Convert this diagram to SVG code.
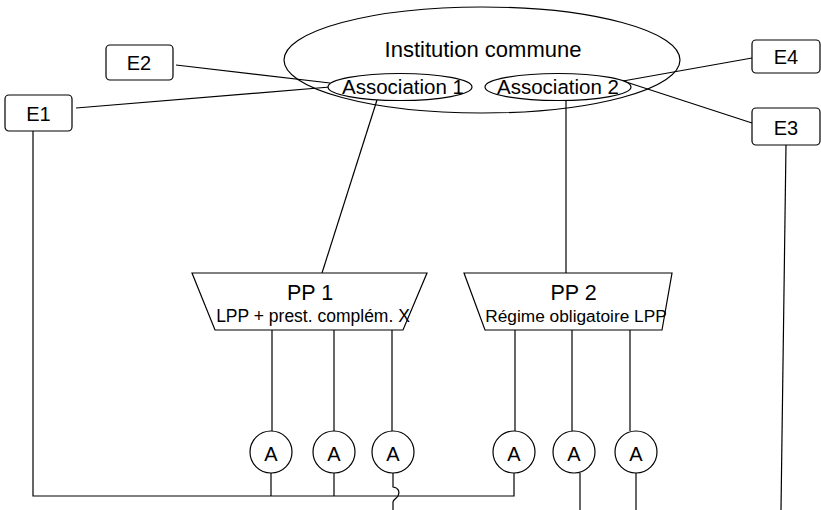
<svg xmlns="http://www.w3.org/2000/svg" width="821" height="510" viewBox="0 0 821 510">
<style>
.s{fill:none;stroke:#000;stroke-width:1.2}
.b{fill:#fff;stroke:#000;stroke-width:1.2}
text{font-family:"Liberation Sans",Arial,sans-serif;fill:#000;text-anchor:middle}
.t20{font-size:20px}
.t19{font-size:20.5px}
.t17{font-size:17.3px}
</style>
<rect width="821" height="510" fill="#fff"/>
<g id="institution">
<ellipse class="b" cx="482" cy="60" rx="198" ry="53"/>
<text x="483" y="57" style="font-size:22px">Institution commune</text>
</g>
<g id="connectors">
<line class="s" x1="176" y1="65" x2="330" y2="83"/>
<line class="s" x1="76" y1="108" x2="330" y2="87"/>
<line class="s" x1="752" y1="58" x2="623" y2="81"/>
<line class="s" x1="752" y1="123" x2="623" y2="81"/>
<line class="s" x1="377" y1="100" x2="322" y2="273"/>
<line class="s" x1="566" y1="100" x2="566" y2="273"/>
<polyline class="s" points="33,131 33,496 514,496 514,473"/>
<line class="s" x1="786" y1="145" x2="781" y2="510"/>
<line class="s" x1="272" y1="330" x2="272" y2="431"/>
<line class="s" x1="334" y1="330" x2="334" y2="431"/>
<line class="s" x1="392" y1="330" x2="392" y2="431"/>
<line class="s" x1="515" y1="330" x2="515" y2="431"/>
<line class="s" x1="572" y1="330" x2="572" y2="431"/>
<line class="s" x1="630" y1="330" x2="630" y2="431"/>
<line class="s" x1="271" y1="473" x2="271" y2="496"/>
<line class="s" x1="334" y1="473" x2="334" y2="496"/>
<path class="s" d="M393,473 V487 C399,488 400,492 398,496 C396,499 393,500 393,502 V510"/>
<line class="s" x1="580" y1="473" x2="580" y2="510"/>
<line class="s" x1="636" y1="473" x2="636" y2="510"/>
</g>
<g id="assoc1">
<ellipse class="b" cx="400" cy="87" rx="72" ry="13.5"/>
<text class="t19" x="403" y="94">Association 1</text>
</g>
<g id="assoc2">
<ellipse class="b" cx="558" cy="87" rx="73" ry="13.5"/>
<text class="t19" x="558" y="94">Association 2</text>
</g>
<g id="E2">
<rect class="b" x="106" y="45" width="67" height="35" rx="4"/>
<text class="t20" x="139" y="70">E2</text>
</g>
<g id="E1">
<rect class="b" x="5" y="95" width="67" height="36" rx="4"/>
<text class="t20" x="38.5" y="121">E1</text>
</g>
<g id="E4">
<rect class="b" x="752" y="40" width="68" height="33" rx="4"/>
<text class="t20" x="786" y="64">E4</text>
</g>
<g id="E3">
<rect class="b" x="752" y="108" width="68" height="37" rx="4"/>
<text class="t20" x="786" y="135">E3</text>
</g>
<g id="PP1">
<polygon class="b" points="192,273 427,273 403,330 215,330"/>
<text x="310" y="300" style="font-size:21.5px">PP 1</text>
<text class="t17" x="313" y="322" style="font-size:17.5px">LPP + prest. complém. X</text>
</g>
<g id="PP2">
<polygon class="b" points="464,273 672,273 662,330 485,330"/>
<text x="573.5" y="300" style="font-size:21.5px">PP 2</text>
<text class="t17" x="576" y="322">Régime obligatoire LPP</text>
</g>
<g id="A1"><circle class="b" cx="271" cy="452" r="21"/><text class="t20" x="271" y="461">A</text></g>
<g id="A2"><circle class="b" cx="334" cy="452" r="21"/><text class="t20" x="334" y="461">A</text></g>
<g id="A3"><circle class="b" cx="393" cy="452" r="21"/><text class="t20" x="393" y="461">A</text></g>
<g id="A4"><circle class="b" cx="514" cy="452" r="21"/><text class="t20" x="514" y="461">A</text></g>
<g id="A5"><circle class="b" cx="574" cy="452" r="21"/><text class="t20" x="574" y="461">A</text></g>
<g id="A6"><circle class="b" cx="636" cy="452" r="21"/><text class="t20" x="636" y="461">A</text></g>
</svg>
